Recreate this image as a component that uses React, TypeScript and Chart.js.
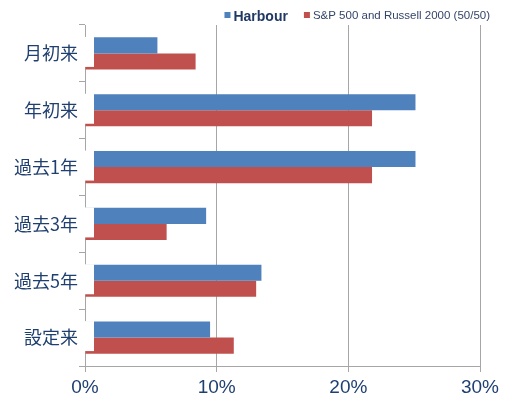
import React, { useEffect, useRef } from 'react';
import { Chart, registerables } from 'chart.js';

Chart.register(...registerables);

const categories = ['月初来', '年初来', '過去1年', '過去3年', '過去5年', '設定来'];
const harbourValues = [5.5, 25.1, 25.1, 9.2, 13.4, 9.5];
const benchmarkValues = [8.4, 21.8, 21.8, 6.2, 13.0, 11.3];
const seriesNames = ['Harbour', 'S&P 500 and Russell 2000 (50/50)'];
const xMin = 0;
const xMax = 30;
const xStep = 10;

// white label panels that sit over the start of the bars (as in the original)
const labelPanelPlugin = {
  id: 'labelPanels',
  afterDatasetsDraw(chart: any) {
    const ctx = chart.ctx;
    const y = chart.scales.y;
    ctx.save();
    ctx.fillStyle = '#ffffff';
    y.ticks.forEach((_t: any, i: number) => {
      const p = y.getPixelForTick(i);
      ctx.fillRect(y.left, p - 16.5, y.right - y.left + 9, 30);
    });
    ctx.restore();
  },
};

const legendPlugin = {
  id: 'customLegend',
  afterDraw(chart: any) {
    const ctx = chart.ctx;
    const ds = chart.data.datasets;
    const fonts = ['bold 14px "Liberation Sans", Arial, sans-serif', '11.5px "Liberation Sans", Arial, sans-serif'];
    const colors = ['#1F3864', '#34456A'];
    const box = 6;
    const gap = 3;
    const itemGap = 16;
    const rightEdge = chart.width - 25;
    ctx.save();
    const widths = ds.map((d: any, i: number) => {
      ctx.font = fonts[i];
      return ctx.measureText(d.label).width;
    });
    const total = widths.reduce((a: number, w: number) => a + box + gap + w, 0) + itemGap * (ds.length - 1);
    let x = rightEdge - total;
    ds.forEach((d: any, i: number) => {
      ctx.fillStyle = d.backgroundColor;
      ctx.fillRect(x, 12, box, box);
      x += box + gap;
      ctx.font = fonts[i];
      ctx.fillStyle = colors[i];
      ctx.textBaseline = 'alphabetic';
      ctx.textAlign = 'left';
      ctx.fillText(d.label, x, i === 0 ? 20.5 : 18.5);
      x += widths[i] + itemGap;
    });
    ctx.restore();
  },
};

export default function App() {
  const ref = useRef<HTMLCanvasElement | null>(null);

  useEffect(() => {
    if (!ref.current) return;
    const chart = new Chart(ref.current, {
      type: 'bar',
      data: {
        labels: categories,
        datasets: [
          {
            label: seriesNames[0],
            data: harbourValues,
            backgroundColor: '#4F81BD',
            borderWidth: 0,
            categoryPercentage: 0.565,
            barPercentage: 1,
          },
          {
            label: seriesNames[1],
            data: benchmarkValues,
            backgroundColor: '#C0504D',
            borderWidth: 0,
            categoryPercentage: 0.565,
            barPercentage: 1,
          },
        ],
      },
      options: {
        indexAxis: 'y',
        responsive: false,
        animation: false,
        layout: { padding: { top: 25, right: 35, left: 0, bottom: 0 } },
        plugins: { legend: { display: false }, tooltip: { enabled: false } },
        scales: {
          x: {
            min: xMin,
            max: xMax,
            ticks: {
              stepSize: xStep,
              callback: (v: any) => v + '%',
              color: '#1F3F73',
              font: { family: '"Liberation Sans", Arial, sans-serif', size: 19 },
              padding: 4,
            },
            grid: { color: '#A6A6A6', lineWidth: 1, tickLength: 6, drawTicks: true },
            border: { display: true, color: '#A6A6A6' },
            afterFit: (s: any) => {
              s.height = 37;
            },
          },
          y: {
            ticks: {
              color: '#1F3F6F',
              font: { family: '"Noto Sans CJK JP", sans-serif', size: 18 },
              padding: 1,
              z: 1,
            },
            grid: { drawOnChartArea: false, drawTicks: true, tickLength: 6, color: '#A6A6A6' },
            border: { display: true, color: '#A6A6A6' },
            afterFit: (s: any) => {
              s.width = 85;
            },
          },
        },
      } as any,
      plugins: [labelPanelPlugin, legendPlugin],
    });
    return () => chart.destroy();
  }, []);

  return (
    <div style={{ position: 'fixed', left: 0, top: 0, width: 515, height: 403, background: '#fff' }}>
      <canvas ref={ref} width={515} height={403} style={{ display: 'block' }} />
    </div>
  );
}
